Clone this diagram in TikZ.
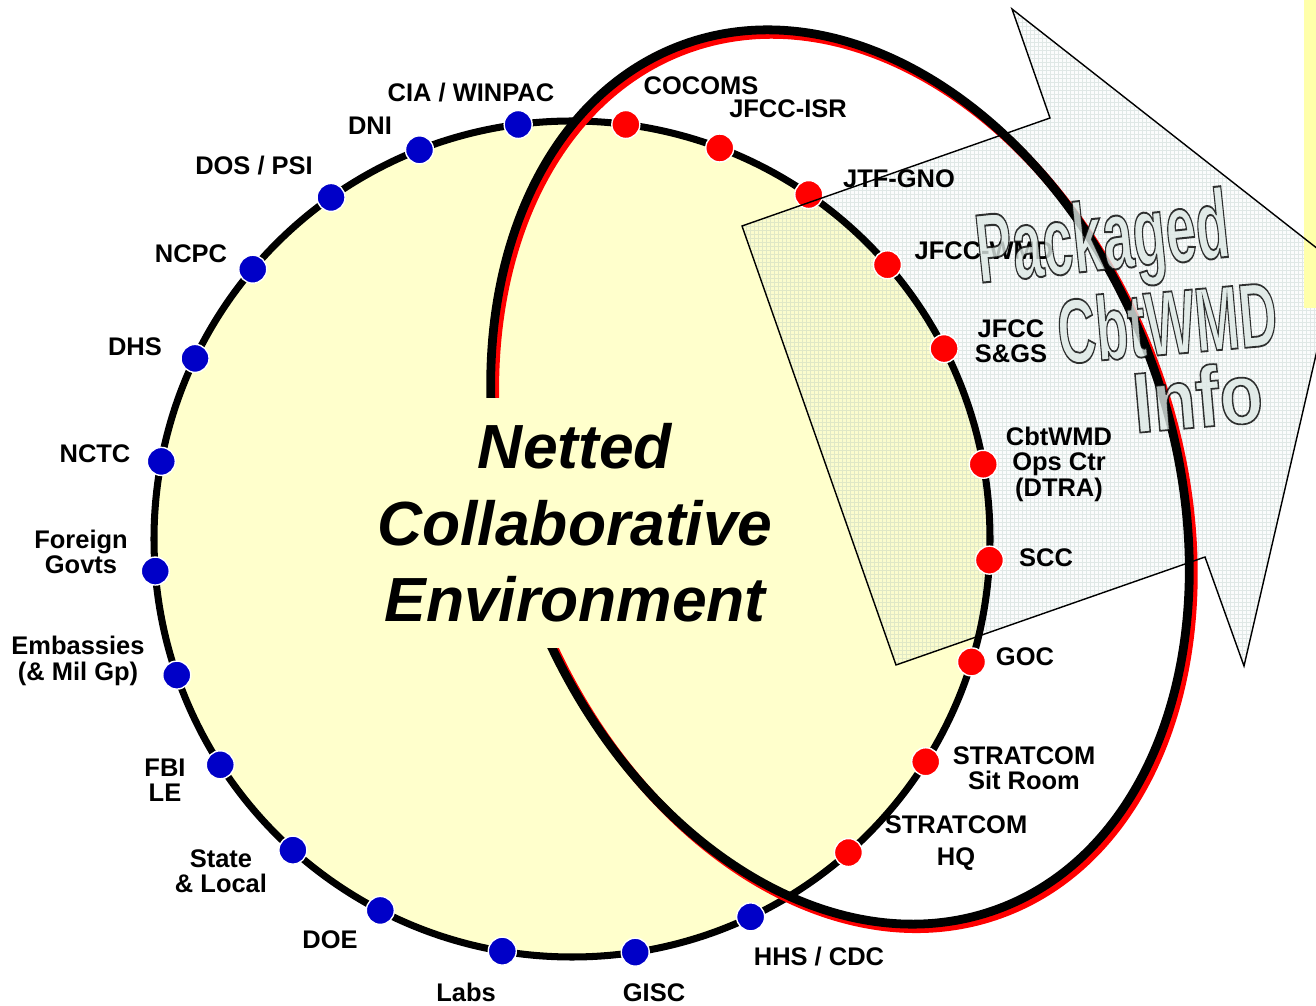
\documentclass[tikz,border=0pt]{standalone}
\usepackage{fontspec}
\setmainfont{Liberation Sans}
\usepackage{graphicx}
\usetikzlibrary{calc}
\definecolor{cyel}{RGB}{255,255,204}
\definecolor{dred}{RGB}{255,0,0}
\definecolor{dblue}{RGB}{0,0,200}
\definecolor{arrfill}{RGB}{214,226,224}
\definecolor{gridcol}{RGB}{170,190,184}
\definecolor{wafill}{RGB}{222,233,229}
\definecolor{stripcol}{RGB}{255,255,170}
\newcommand{\olt}[1]{\textcolor{wafill}{\special{pdf:literal direct 2 Tr 0.8 w 0 0 0 RG}#1\special{pdf:literal direct 0 Tr}}}
\begin{document}
\begin{tikzpicture}[x=0.02cm,y=-0.02cm,
  lab/.style={font=\fontsize{14.5}{14.5}\selectfont\bfseries, align=center, inner sep=0pt},
  dotbase/.style={circle, draw=white, line width=0.8pt, minimum size=0.56cm, inner sep=0pt},
  bdot/.style={dotbase, fill=dblue},
  rdot/.style={dotbase, fill=dred},
  ring/.style={draw=black, line width=4pt},
  ellline/.style={line width=5pt},
  arrline/.style={draw=black, line width=0.8pt, line join=miter},
  gridline/.style={draw=gridcol, line width=0.55pt, draw opacity=0.32},
  netbox/.style={fill=cyel, inner sep=0pt, minimum width=8.4cm, minimum height=5cm, align=center,
     font=\fontsize{35.5}{43.6}\selectfont\bfseries\itshape},
  wa/.style={anchor=base west, inner sep=0pt, text opacity=0.8, font=\fontsize{40}{40}\selectfont\bfseries}
]
\useasboundingbox (0,0) rectangle (1316,1006);
\clip (0,0) rectangle (1316,1006);
\fill[white] (0,0) rectangle (1316,1006);
\coordinate (C) at (572,539);
\fill[cyel] (C) circle (418);

% arrow body
\coordinate (a1) at (896,665);
\coordinate (a2) at (742,226);
\coordinate (a3) at (1050,118);
\coordinate (a4) at (1012,9);
\coordinate (a5) at (1337,264);
\coordinate (a6) at (1244,666);
\coordinate (a7) at (1205,557);
\fill[arrfill, fill opacity=0.08] (a1)--(a2)--(a3)--(a4)--(a5)--(a6)--(a7)--cycle;
\begin{scope}
  \clip (a1)--(a2)--(a3)--(a4)--(a5)--(a6)--(a7)--cycle;
  \draw[gridline] foreach \i in {738,742,...,1342} {(\i,0)--(\i,680)}
                  foreach \j in {2,6,...,682} {(730,\j)--(1345,\j)};
\end{scope}
\fill[stripcol] (1304,0) rectangle (1316,308);

% ring
\draw[ring] (C) circle (418);

% ellipse (red shadow + black)
\draw[dred, ellline, rotate around={-70.1:(844,481.5)}] (844,481.5) ellipse [x radius=460, y radius=332];
\draw[black, ellline, rotate around={-70.1:(840,477)}] (840,477) ellipse [x radius=460, y radius=332];

% central text
\node[netbox] (net) at (575,523) {Netted\\Collaborative\\Environment};

% blue dots
\node[bdot] (dCIA) at ($(C)+(-97.4:418)$) {};
\node[bdot] (dDNI) at ($(C)+(-111.4:418)$) {};
\node[bdot] (dDOS) at ($(C)+(-125.2:418)$) {};
\node[bdot] (dNCPC) at ($(C)+(-139.8:418)$) {};
\node[bdot] (dDHS) at ($(C)+(-154.4:418)$) {};
\node[bdot] (dNCTC) at ($(C)+(-169.3:418)$) {};
\node[bdot] (dFOR) at ($(C)+(-184.4:418)$) {};
\node[bdot] (dEMB) at ($(C)+(-199:418)$) {};
\node[bdot] (dFBI) at ($(C)+(-212.7:418)$) {};
\node[bdot] (dSTA) at ($(C)+(-228.1:418)$) {};
\node[bdot] (dDOE) at ($(C)+(-242.7:418)$) {};
\node[bdot] (dLAB) at ($(C)+(-260.4:418)$) {};
\node[bdot] (dGIS) at ($(C)+(-278.7:418)$) {};
\node[bdot] (dHHS) at ($(C)+(-295.3:418)$) {};
% red dots
\node[rdot] (dSHQ) at ($(C)+(-311.4:418)$) {};
\node[rdot] (dSSR) at ($(C)+(-327.8:418)$) {};
\node[rdot] (dGOC) at ($(C)+(-342.9:418)$) {};
\node[rdot] (dSCC) at ($(C)+(-357.1:418)$) {};
\node[rdot] (dOPS) at ($(C)+(-10.3:418)$) {};
\node[rdot] (dSGS) at ($(C)+(-27.1:418)$) {};
\node[rdot] (dWMD) at ($(C)+(-41:418)$) {};
\node[rdot] (dGNO) at ($(C)+(-55.5:418)$) {};
\node[rdot] (dISR) at ($(C)+(-69.3:418)$) {};
\node[rdot] (dCOC) at ($(C)+(-82.6:418)$) {};

% arrow outline
\draw[arrline] (a1)--(a2)--(a3)--(a4)--(a5)--(a6)--(a7)--cycle;

% labels
\node[lab] (lCIA) at (471,93) {CIA / WINPAC};
\node[lab] (lDNI) at (370,126) {DNI};
\node[lab] (lDOS) at (254,166) {DOS / PSI};
\node[lab] (lNCPC) at (191,254) {NCPC};
\node[lab] (lDHS) at (135,347) {DHS};
\node[lab] (lNCTC) at (95,454) {NCTC};
\node[lab] (lFOR) at (81,552) {Foreign\\Govts};
\node[lab] (lEMB) at (78,661) {Embassies\\(\& Mil Gp)};
\node[lab] (lFBI) at (165,780) {FBI\\LE};
\node[lab] (lSTA) at (221,871) {State\\\& Local};
\node[lab] (lDOE) at (330,940) {DOE};
\node[lab] (lLAB) at (466,992) {Labs};
\node[lab] (lGIS) at (654,993) {GISC};
\node[lab] (lHHS) at (819,957) {HHS / CDC};
\node[lab] (lSHQ) at (956,843) {STRATCOM\\[3.6pt]HQ};
\node[lab] (lSSR) at (1024,768) {STRATCOM\\Sit Room};
\node[lab] (lGOC) at (1025,657) {GOC};
\node[lab] (lSCC) at (1046,558) {SCC};
\node[lab] (lOPS) at (1059,464) {CbtWMD\\Ops Ctr\\(DTRA)};
\node[lab] (lSGS) at (1011,341) {JFCC\\S\&GS};
\node[lab] (lWMD) at (984,251) {JFCC-WMD};
\node[lab] (lGNO) at (899,179) {JTF-GNO};
\node[lab] (lISR) at (788,109) {JFCC-ISR};
\node[lab] (lCOC) at (701,86) {COCOMS};

% word art
\node[wa, rotate=6] (w1) at (979,283) {\resizebox{5.08cm}{1.42cm}{\olt{Packaged}}};
\node[wa, rotate=5] (w2) at (1060,364) {\resizebox{4.4cm}{1.32cm}{\olt{CbtWMD}}};
\node[wa, rotate=5] (w3) at (1135,433) {\resizebox{2.6cm}{1.24cm}{\olt{Info}}};
\end{tikzpicture}
\end{document}
